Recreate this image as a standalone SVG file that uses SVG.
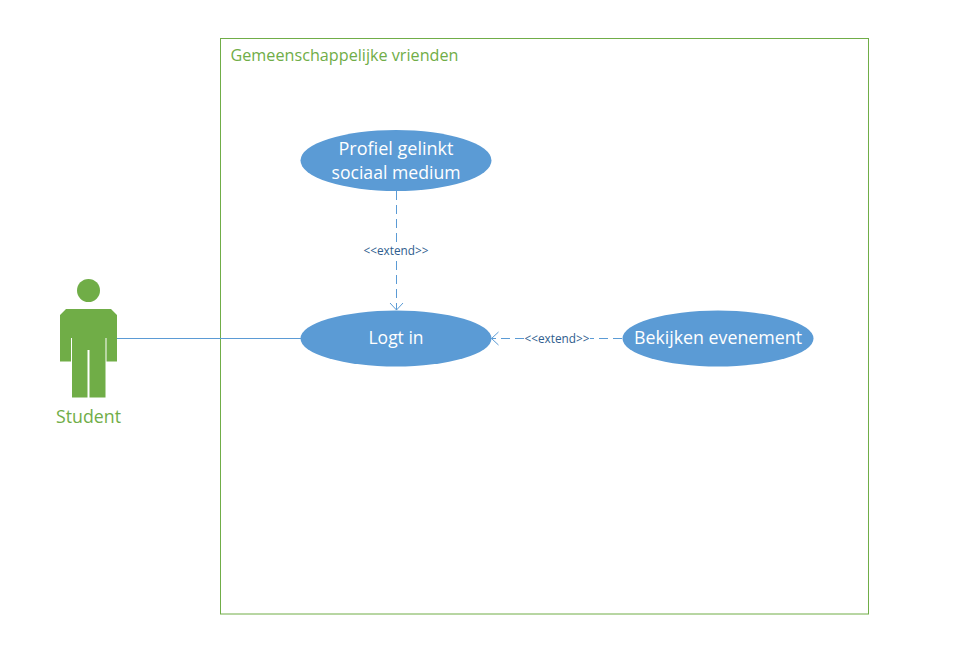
<svg xmlns="http://www.w3.org/2000/svg" width="965" height="645" viewBox="0 0 965 645">
<style>
text{font-family:"Open Sans","Noto Sans","Liberation Sans",sans-serif;text-anchor:middle}
.uc{fill:#5b9bd5}
.ut{fill:#fff;font-size:18px}
.ln{fill:none;stroke:#5b9bd5;stroke-width:1}
.d{stroke-dasharray:9 5}
.lb{fill:#2f5e8e;font-size:13px}
.gr{fill:#70ad47}
</style>
<defs><marker id="open" markerWidth="14" markerHeight="14" refX="10" refY="5" orient="auto" markerUnits="userSpaceOnUse" overflow="visible"><path d="M3 -1.500 L10 5 L3 11.500" fill="none" stroke="#5b9bd5" stroke-width="1"/></marker></defs>
<rect id="boundary" x="220.500" y="38.500" width="648" height="575.500" fill="#fff" stroke="#70ad47" stroke-width="1"/>
<text x="230.500" y="61" style="text-anchor:start;font-size:15.500px" fill="#70ad47" textLength="228" lengthAdjust="spacingAndGlyphs">Gemeenschappelijke vrienden</text>
<g id="connectors">
<line class="ln" x1="117" y1="338.500" x2="301" y2="338.500"/>
<line class="ln d" x1="396.500" y1="191" x2="396.500" y2="310" marker-end="url(#open)"/>
<line class="ln d" x1="622" y1="338.500" x2="491.500" y2="338.500" marker-end="url(#open)"/>
</g>
<rect x="362" y="243" width="68" height="15" fill="#fff"/>
<text class="lb" x="396" y="254.500" textLength="65" lengthAdjust="spacingAndGlyphs">&lt;&lt;extend&gt;&gt;</text>
<rect x="524" y="331" width="66" height="15" fill="#fff"/>
<text class="lb" x="557" y="342.500" textLength="65" lengthAdjust="spacingAndGlyphs">&lt;&lt;extend&gt;&gt;</text>
<g id="actor">
<circle class="gr" cx="88.500" cy="290.500" r="11.500"/>
<path class="gr" d="M66 309 H111 L117 315 V361.500 H106.500 V338 H105.500 V397.500 H89.500 V350 H87.500 V397.500 H72 V338 H71 V361.500 H60 V315 Z"/>
<text x="88.500" y="423" font-size="17.500" fill="#70ad47" textLength="65" lengthAdjust="spacingAndGlyphs">Student</text>
</g>
<g id="profiel">
<ellipse class="uc" cx="396" cy="160.500" rx="95.500" ry="30.500"/>
<text class="ut" x="396" y="155" textLength="115" lengthAdjust="spacingAndGlyphs">Profiel gelinkt</text>
<text class="ut" x="396" y="179" textLength="129" lengthAdjust="spacingAndGlyphs">sociaal medium</text>
</g>
<g id="logtin">
<ellipse class="uc" cx="396" cy="338.500" rx="95.500" ry="28"/>
<text class="ut" x="396" y="344" textLength="55" lengthAdjust="spacingAndGlyphs">Logt in</text>
</g>
<g id="bekijken">
<ellipse class="uc" cx="718" cy="338.500" rx="95.500" ry="28"/>
<text class="ut" x="718" y="344" textLength="168" lengthAdjust="spacingAndGlyphs">Bekijken evenement</text>
</g>
</svg>
